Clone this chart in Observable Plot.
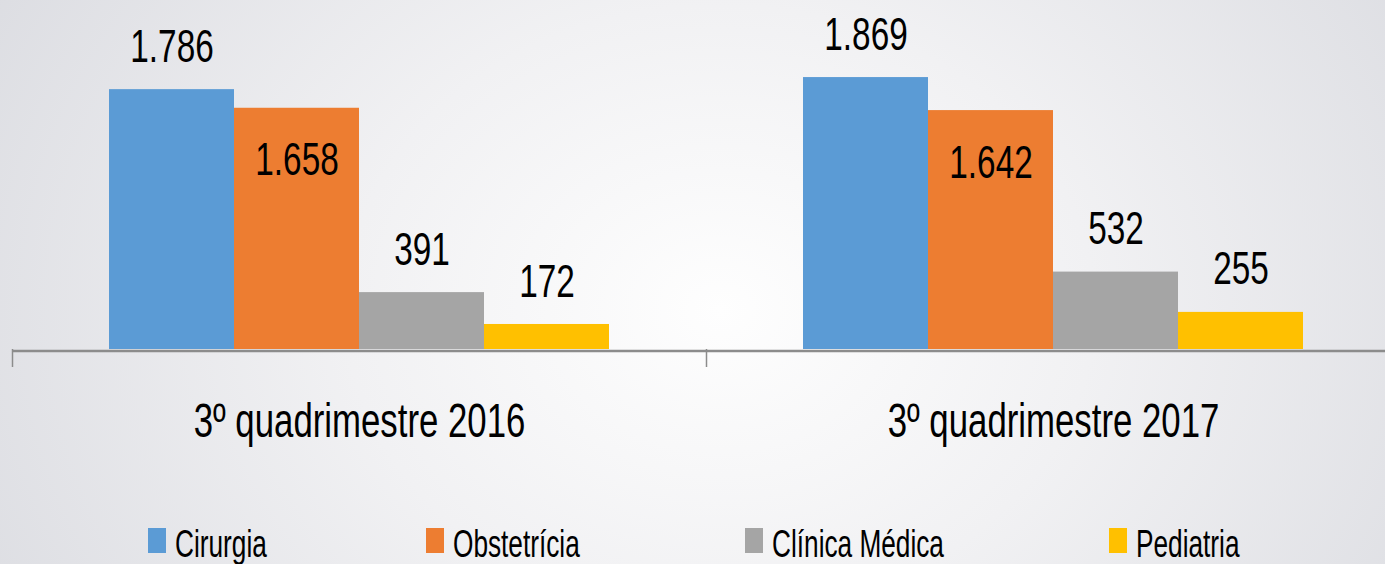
<!DOCTYPE html>
<html>
<head>
<meta charset="utf-8">
<script src="https://cdn.jsdelivr.net/npm/d3@7"></script>
<script src="https://cdn.jsdelivr.net/npm/@observablehq/plot@0.6"></script>
<style>
html, body { margin: 0; padding: 0; width: 1385px; height: 564px; overflow: hidden; }
body {
  background: radial-gradient(ellipse 60% 120% at 52% 55%, #fefefe 0%, #f1f1f3 45%, #dcdde2 100%);
  font-family: "Liberation Sans", Arial, sans-serif;
}
#chart { position: relative; width: 1385px; height: 500px; overflow: hidden; }
#chart svg { max-width: none !important; width: 1400px !important; height: 500px !important; }
#legend { position: relative; width: 1385px; height: 64px; overflow: hidden; }
.sw { position: absolute; top: 28px; width: 18px; height: 25px; }
.lab { position: absolute; top: 25px; font-size: 38px; line-height: 38px; white-space: nowrap;
       transform: scaleX(0.69); transform-origin: 0 0; color: #000; }
</style>
</head>
<body>
<div id="chart"></div>
<div id="legend"></div>
<script>
// ---- data ----
const groups = ["3º quadrimestre 2016", "3º quadrimestre 2017"];
const categories = ["Cirurgia", "Obstetrícia", "Clínica Médica", "Pediatria"];
const colors = ["#5B9BD5", "#ED7D31", "#A5A5A5", "#FFC000"];
const values2016 = [1786, 1658, 391, 172];
const values2017 = [1869, 1642, 532, 255];
const legendLeft = [148, 426, 745, 1109];

const seriesByGroup = [values2016, values2017];
const rows = groups.flatMap((g, gi) => categories.map((c, ci) => ({group: g, category: c, value: seriesByGroup[gi][ci]})));

const fmt = d3.formatLocale({decimal: ",", thousands: ".", grouping: [3], currency: ["R$", ""]}).format(",d");
const FONT = "'Liberation Sans', Arial, sans-serif";
const SX = 0.71;

const plot = Plot.plot({
  width: 1400, height: 500,
  marginLeft: 12, marginRight: 0, marginTop: 58, marginBottom: 151,
  style: {background: "transparent", fontFamily: FONT, overflow: "visible"},
  fx: {domain: groups, padding: 0, axis: null},
  x: {domain: categories, paddingInner: 0, paddingOuter: 0.754, axis: null},
  y: {domain: [0, 2000], axis: null},
  color: {domain: categories, range: colors},
  marks: [
    Plot.barY(rows, {fx: "group", x: "category", y: "value", fill: "category"}),
    Plot.ruleY([0], {stroke: "#8c8c8c", strokeWidth: 2.5, dy: 1.5}),
    Plot.text(rows.filter(d => d.category !== "Obstetrícia"), {
      fx: "group", x: "category", y: "value", text: d => fmt(d.value),
      fontSize: 47, dy: -43, fill: "#000", lineAnchor: "middle"
    }),
    Plot.text(rows.filter(d => d.category === "Obstetrícia"), {
      fx: "group", x: "category", y: "value", text: d => fmt(d.value),
      fontSize: 47, dy: 52, fill: "#000", lineAnchor: "middle"
    }),
    Plot.text(groups, {fx: d => d, text: d => d, frameAnchor: "bottom", lineAnchor: "middle", dy: 72, fontSize: 49, fill: "#000"})
  ]
});

// group separator ticks below the baseline, from the library's scales
const fxs = plot.scale("fx");
const ys = plot.scale("y");
const y0 = ys.apply(0);
const bw = fxs.bandwidth;
const edges = groups.map(g => fxs.apply(g));
edges.push(fxs.apply(groups[groups.length - 1]) + bw);
d3.select(plot).append("g")
  .selectAll("line").data(edges).join("line")
  .attr("x1", d => d + 0.5).attr("x2", d => d + 0.5)
  .attr("y1", y0).attr("y2", y0 + 18)
  .attr("stroke", "#8c8c8c").attr("stroke-width", 1.5);

// horizontal compression of the text (the original is a squeezed Calibri)
plot.querySelectorAll("text").forEach(t => {
  const x = +(t.getAttribute("x") || 0);
  const tr = t.getAttribute("transform") || "";
  t.setAttribute("transform", `${tr} translate(${x},0) scale(${SX},1) translate(${-x},0)`.trim());
});

document.getElementById("chart").appendChild(plot);

// legend
const legend = d3.select("#legend");
categories.forEach((c, i) => {
  legend.append("div").attr("class", "sw").style("left", legendLeft[i] + "px").style("background", colors[i]);
  legend.append("div").attr("class", "lab").style("left", (legendLeft[i] + 27) + "px").text(c);
});
</script>
</body>
</html>
